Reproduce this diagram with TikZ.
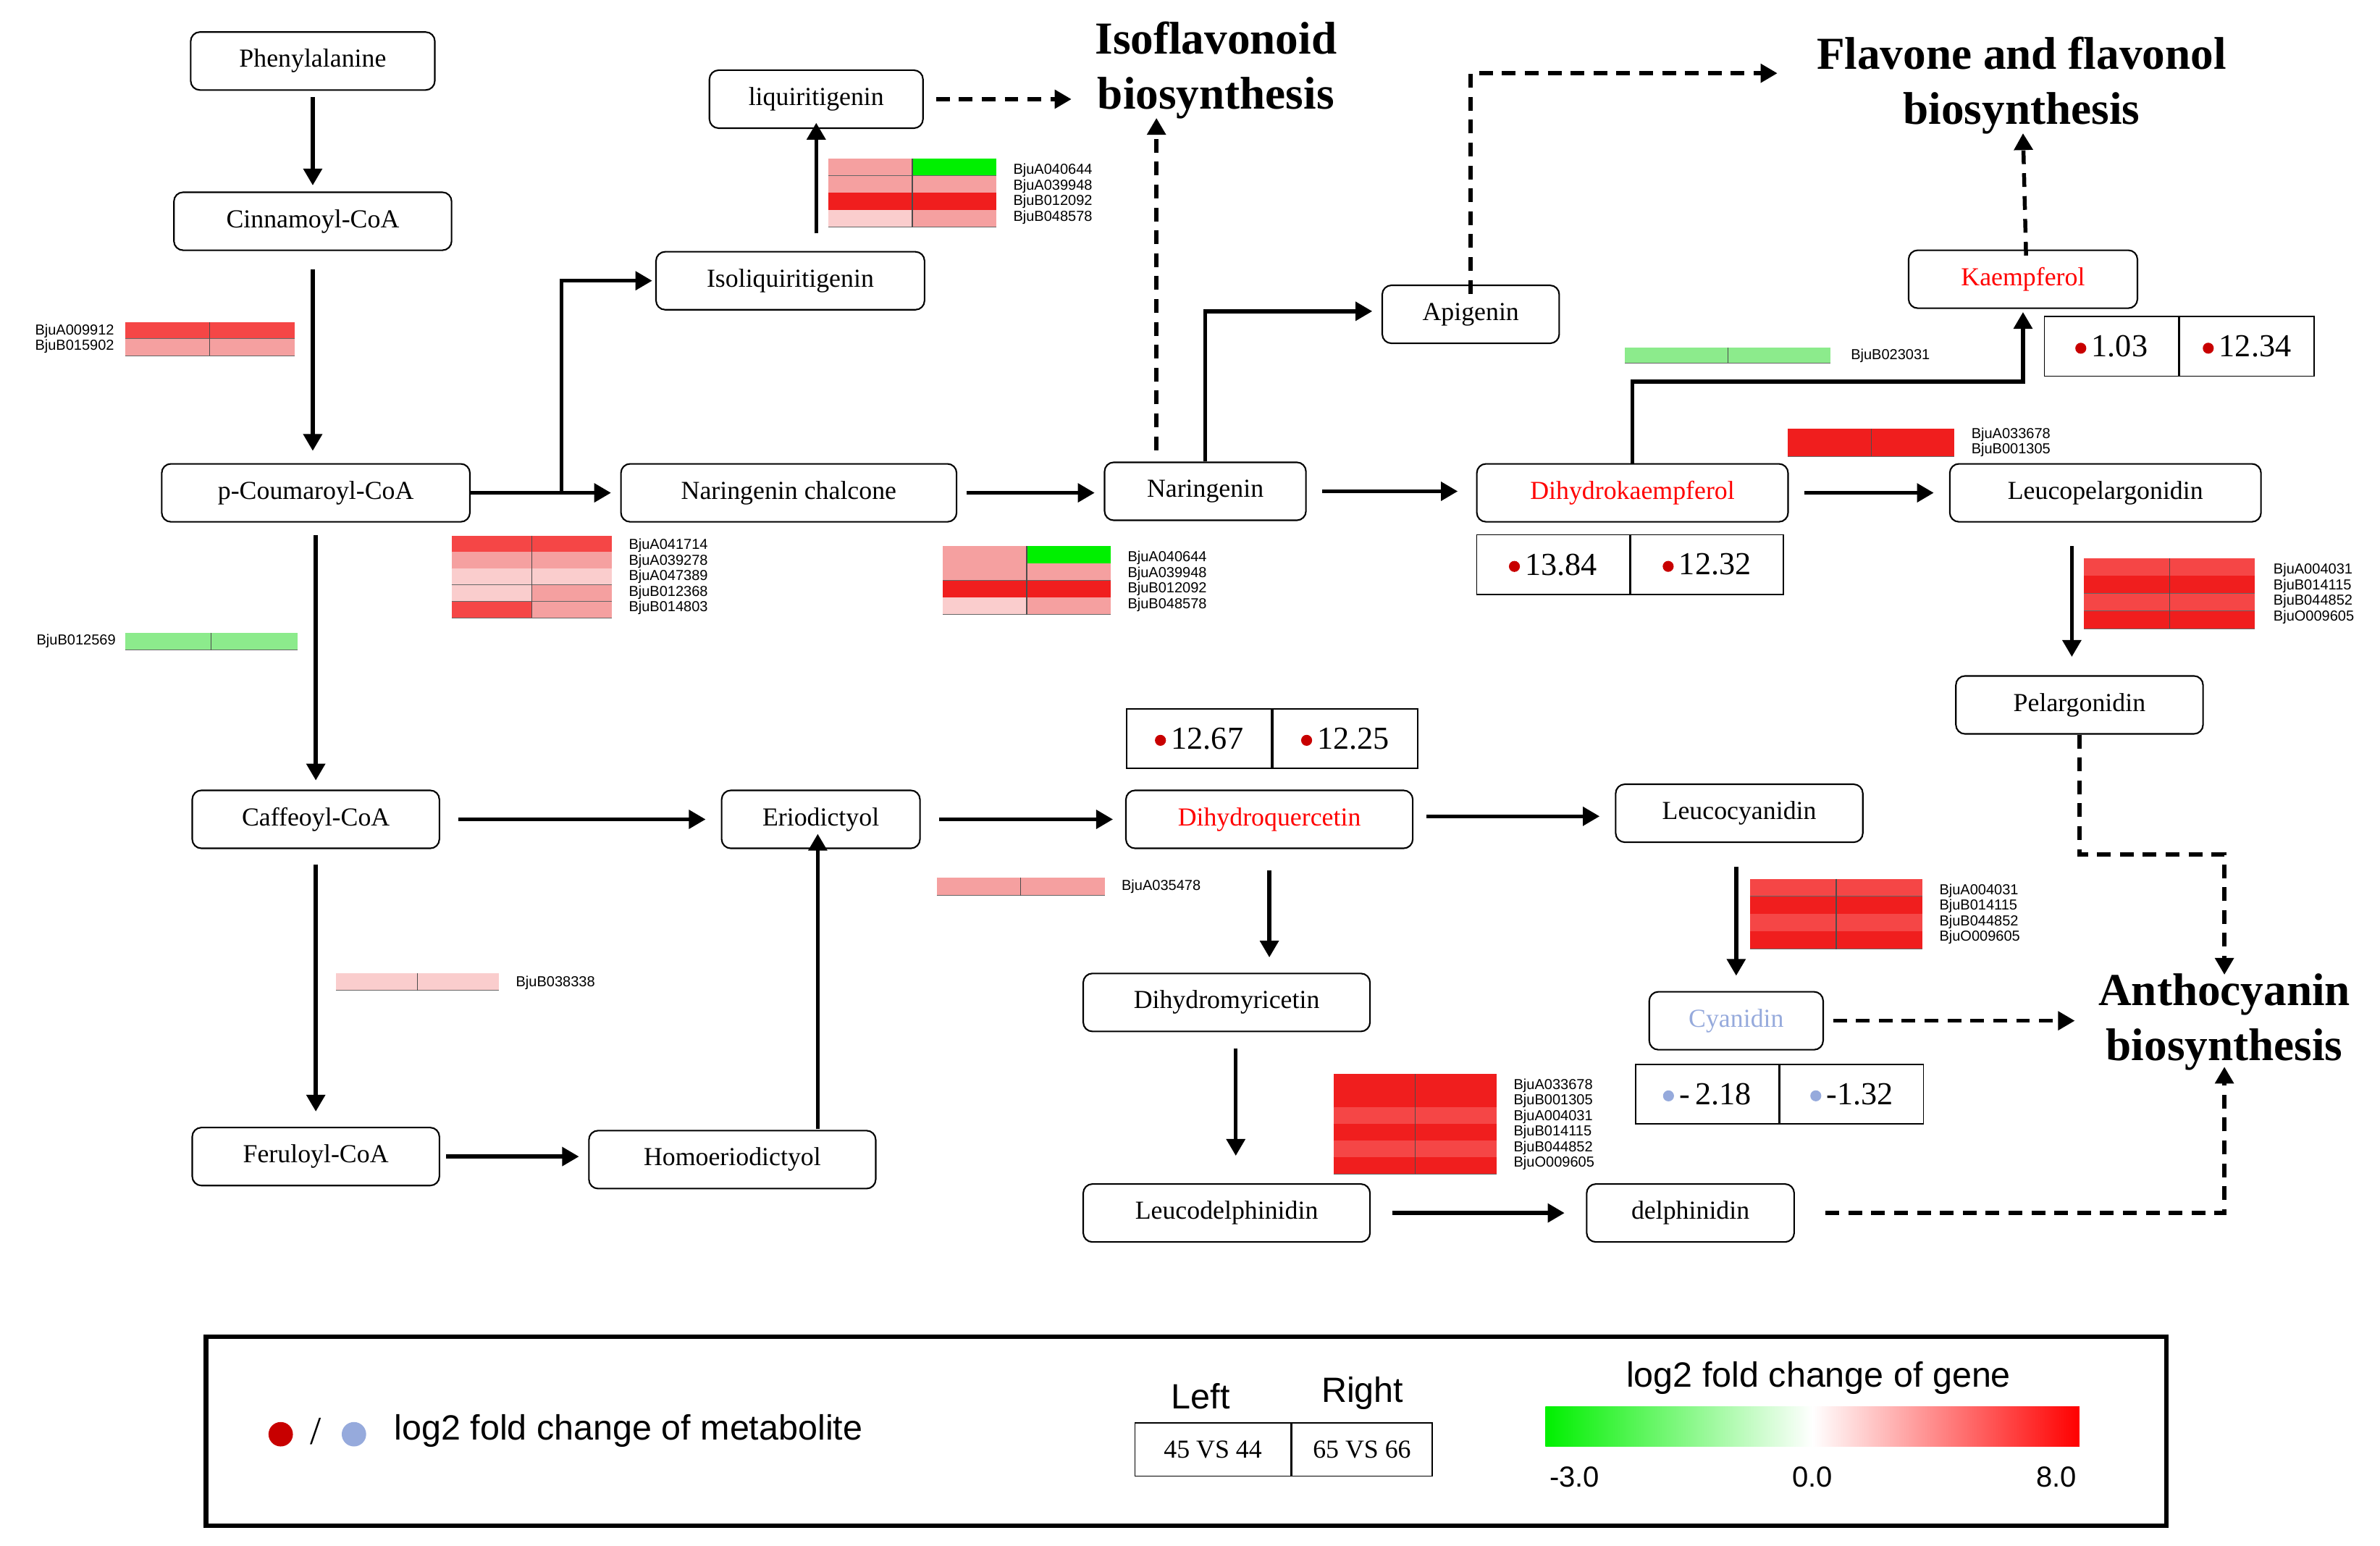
\documentclass[tikz,border=0pt]{standalone}
\usepackage{fontspec}
\setmainfont{Liberation Serif}
\newfontfamily\sans{Liberation Sans}
\usetikzlibrary{arrows.meta}
\definecolor{hR}{RGB}{240,30,30}
\definecolor{hR2}{RGB}{245,70,70}
\definecolor{hP}{RGB}{245,160,160}
\definecolor{hL}{RGB}{250,205,205}
\definecolor{hG}{RGB}{0,240,0}
\definecolor{hLG}{RGB}{140,235,140}
\definecolor{mred}{RGB}{200,0,0}
\definecolor{mblue}{RGB}{150,170,220}
\newcommand\heat[6]{% x1,y1,width,rowheight,nrows,list l/r
  \foreach \l/\r [count=\i] in {#6}{
    \fill[\l] (#1,{#2+(\i-1)*#4}) rectangle ({#1+#3/2},{#2+\i*#4});
    \fill[\r] ({#1+#3/2},{#2+(\i-1)*#4}) rectangle ({#1+#3},{#2+\i*#4});
    \draw[black!60,line width=0.4pt] (#1,{#2+\i*#4}) -- ({#1+#3},{#2+\i*#4});
  }
  \draw[black!70,line width=0.6pt] ({#1+#3/2},#2) -- ({#1+#3/2},{#2+#5*#4});
}
\newcommand\mdot[1]{{\color{#1}\raisebox{2pt}{\tikz\fill (0,0) circle (3.6pt);}}}
\begin{document}
\begin{tikzpicture}[x=1pt,y=-1pt,
  box/.style={draw,rounded corners=6pt,line width=1pt,minimum height=38pt,font=\fontsize{17}{18}\selectfont,inner sep=2pt},
  ar/.style={line width=2.6pt,-{Triangle[length=11pt,width=12pt]}},
  da/.style={ar,dash pattern=on 9pt off 6pt},
  ttl/.style={font=\fontsize{30}{36}\selectfont\bfseries,align=center},
  gl/.style={font=\sans\fontsize{9.5}{10.2}\selectfont,align=left,inner sep=0pt},
  glr/.style={gl,align=right},
  vb/.style={draw,line width=0.8pt,minimum height=39pt,font=\fontsize{21}{22}\selectfont,inner sep=0pt},
  dot/.style={circle,fill=#1,inner sep=0pt,minimum size=6pt}]
\useasboundingbox (0,0) rectangle (1560,1013);
% nodes
\node[box,minimum width=160pt] (phe) at (205,40) {Phenylalanine};
\node[box,minimum width=182pt] (cin) at (205,145) {Cinnamoyl-CoA};
\node[box,minimum width=202pt] (pco) at (207,323) {p-Coumaroyl-CoA};
\node[box,minimum width=162pt] (caf) at (207,537) {Caffeoyl-CoA};
\node[box,minimum width=162pt] (fer) at (207,758) {Feruloyl-CoA};
\node[box,minimum width=188pt] (hom) at (480,760) {Homoeriodictyol};
\node[box,minimum width=130pt] (eri) at (538,537) {Eriodictyol};
\node[box,minimum width=176pt] (iso) at (518,184) {Isoliquiritigenin};
\node[box,minimum width=140pt] (liq) at (535,65) {liquiritigenin};
\node[box,minimum width=220pt] (nch) at (517,323) {Naringenin chalcone};
\node[box,minimum width=132pt] (nar) at (790,322) {Naringenin};
\node[box,minimum width=116pt] (api) at (964,206) {Apigenin};
\node[box,minimum width=204pt,text=red] (dhk) at (1070,323) {Dihydrokaempferol};
\node[box,minimum width=150pt,text=red] (kae) at (1326,183) {Kaempferol};
\node[box,minimum width=204pt] (lpe) at (1380,323) {Leucopelargonidin};
\node[box,minimum width=162pt] (pel) at (1363,462) {Pelargonidin};
\node[box,minimum width=188pt,text=red] (dhq) at (832,537) {Dihydroquercetin};
\node[box,minimum width=162pt] (lcy) at (1140,533) {Leucocyanidin};
\node[box,minimum width=188pt] (dhm) at (804,657) {Dihydromyricetin};
\node[box,minimum width=114pt,text=mblue] (cya) at (1138,669) {Cyanidin};
\node[box,minimum width=188pt] (ldp) at (804,795) {Leucodelphinidin};
\node[box,minimum width=136pt] (del) at (1108,795) {delphinidin};
\node[ttl] (isoT) at (797,46) {Isoflavonoid\\biosynthesis};
\node[ttl] (flaT) at (1325,56) {Flavone and flavonol\\biosynthesis};
\node[ttl] (antT) at (1458,670) {Anthocyanin\\biosynthesis};
% value boxes
\foreach \n/\x/\y/\w/\a/\b/\c in {vk/1384/227/88/1.03/12.34/mred, vd/1018/370/100/13.84/12.32/mred, vq/786/484/95/12.67/12.25/mred, vc/1119/717/94/-\,2.18/-1.32/mblue}{
  \node[vb,minimum width=\w pt] (\n l) at (\x,\y) {\mdot{\c}\,\a};
  \node[vb,minimum width=\w pt,anchor=west] (\n r) at (\n l.east) {\mdot{\c}\,\b};
}
% heatmaps
\heat{82}{211}{111}{11}{2}{hR2/hR2,hP/hP}
\node[glr,anchor=east] (g1) at (75,222) {BjuA009912\\BjuB015902};
\heat{296}{351}{105}{10.8}{5}{hR2/hR2,hP/hP,hL/hL,hL/hP,hR2/hP}
\node[gl,anchor=west] (g2) at (412,378) {BjuA041714\\BjuA039278\\BjuA047389\\BjuB012368\\BjuB014803};
\heat{82}{415}{113}{11}{1}{hLG/hLG}
\node[glr,anchor=east] (g3) at (76,420) {BjuB012569};
\heat{543}{104}{110}{11.2}{4}{hP/hG,hP/hP,hR/hR,hL/hP}
\node[gl,anchor=west] (g4) at (664,127) {BjuA040644\\BjuA039948\\BjuB012092\\BjuB048578};
\heat{618}{358}{110}{11.2}{4}{hP/hG,hP/hP,hR/hR,hL/hP}
\node[gl,anchor=west] (g5) at (739,381) {BjuA040644\\BjuA039948\\BjuB012092\\BjuB048578};
\heat{1065}{228}{135}{10}{1}{hLG/hLG}
\node[gl,anchor=west] (g6) at (1213,233) {BjuB023031};
\heat{1172}{281}{109}{9}{2}{hR/hR,hR/hR}
\node[gl,anchor=west] (g7) at (1292,290) {BjuA033678\\BjuB001305};
\heat{1366}{366}{112}{11.5}{4}{hR2/hR2,hR/hR,hR2/hR2,hR/hR}
\node[gl,anchor=west] (g8) at (1490,389) {BjuA004031\\BjuB014115\\BjuB044852\\BjuO009605};
\heat{614}{575}{110}{12}{1}{hP/hP}
\node[gl,anchor=west] (g9) at (735,581) {BjuA035478};
\heat{220}{638}{107}{11}{1}{hL/hL}
\node[gl,anchor=west] (g10) at (338,644) {BjuB038338};
\heat{1147}{576}{113}{11.5}{4}{hR2/hR2,hR/hR,hR2/hR2,hR/hR}
\node[gl,anchor=west] (g11) at (1271,599) {BjuA004031\\BjuB014115\\BjuB044852\\BjuO009605};
\heat{874}{704}{107}{10.9}{6}{hR/hR,hR/hR,hR2/hR2,hR/hR,hR2/hR2,hR/hR}
\node[gl,anchor=west] (g12) at (992,737) {BjuA033678\\BjuB001305\\BjuA004031\\BjuB014115\\BjuB044852\\BjuO009605};
% solid arrows
\draw[ar] ([yshift=-4pt]phe.south) -- ([yshift=4pt]cin.north-|phe.south);
\draw[ar] ([yshift=-12pt]cin.south) -- ([yshift=8pt]pco.north-|cin.south);
\draw[ar] ([yshift=-8pt]pco.south) -- ([yshift=6pt]caf.north-|pco.south);
\draw[ar] ([yshift=-10pt]caf.south) -- ([yshift=10pt]fer.north-|caf.south);
\draw[ar] ([xshift=4pt]fer.east) -- ([xshift=-6pt]hom.west|-fer.east);
\coordinate (he) at (536,740);
\draw[ar] (he) -- ([yshift=10pt]eri.south-|he);
\draw[ar] ([xshift=12pt]caf.east) -- ([xshift=-10pt]eri.west|-caf.east);
\draw[ar] ([xshift=12pt]eri.east) -- ([xshift=-8pt]dhq.west|-eri.east);
\draw[ar] (pco.east) -- ([xshift=-6pt]nch.west|-pco.east);
\coordinate (br) at (368,323);
\draw[ar] (br) |- ([xshift=-2pt]iso.west);
\coordinate (il) at (535,153);
\draw[ar] (il) -- ([yshift=4pt]liq.south-|il);
\draw[ar] ([xshift=6pt]nch.east) -- ([xshift=-6pt]nar.west|-nch.east);
\draw[ar] ([xshift=10pt]nar.east) -- ([xshift=-12pt]dhk.west|-nar.east);
\draw[ar] (nar.north) -- (790,204) -- ([xshift=-6pt]api.west|-0,204);
\draw[ar] (dhk.north) -- (1070,250) -- (1326,250) -- ([yshift=-2pt]kae.south);
\draw[ar] ([xshift=10pt]dhk.east) -- ([xshift=-10pt]lpe.west|-dhk.east);
\coordinate (lp) at (1358,358);
\draw[ar] (lp) -- ([yshift=12pt]pel.north-|lp);
\coordinate (qe) at (935,535);
\draw[ar] (qe) -- ([xshift=-10pt]lcy.west|-qe);
\draw[ar] ([yshift=-14pt]dhq.south) -- ([yshift=10pt]dhm.north-|dhq.south);
\coordinate (lc) at (1138,568);
\draw[ar] (lc) -- ([yshift=10pt]cya.north-|lc);
\coordinate (dm) at (810,687);
\draw[ar] (dm) -- ([yshift=18pt]ldp.north-|dm);
\draw[ar] ([xshift=14pt]ldp.east) -- ([xshift=-14pt]del.west);
% dashed arrows
\draw[da] ([xshift=8pt]liq.east) -- ([xshift=-12pt]liq.east-|isoT.west);
\coordinate (nu) at (758,295);
\draw[da] (nu) -- ([yshift=4pt]isoT.south-|nu);
\draw[da] ([yshift=-6pt]api.north) -- (964,48) -- (1165,48);
\draw[da] ([xshift=2pt,yshift=-4pt]kae.north) -- ([yshift=4pt]flaT.south-|kae.north);
\draw[da] (pel.south) -- (1363,560) -- (1458,560) -- ([yshift=-4pt]antT.north);
\draw[da] ([xshift=6pt]cya.east) -- ([xshift=-12pt]antT.west|-cya.east);
\draw[da] ([xshift=20pt]del.east) -- (1458,795) -- ([yshift=6pt]antT.south);
% legend
\draw[line width=3pt] (135,876) rectangle (1420,1000);
\node[dot=mred,minimum size=16pt] (ld1) at (184,940) {};
\node[font=\fontsize{26}{26}\selectfont] (lsl) at (207,938) {/};
\node[dot=mblue,minimum size=16pt] (ld2) at (232,940) {};
\node[anchor=west,font=\sans\fontsize{23}{24}\selectfont] (lt) at (255,938) {log2 fold change of metabolite};
\node[font=\sans\fontsize{23}{24}\selectfont] (lleft) at (787,915) {Left};
\node[font=\sans\fontsize{23}{24}\selectfont] (lright) at (893,913) {Right};
\node[draw,line width=0.7pt,minimum width=102pt,minimum height=35pt,font=\fontsize{17}{18}\selectfont] (ll) at (795,950) {45 VS 44};
\node[draw,line width=0.7pt,minimum width=92pt,minimum height=35pt,font=\fontsize{17}{18}\selectfont,anchor=west] (lr) at (ll.east) {65 VS 66};
\node[font=\sans\fontsize{23}{24}\selectfont] (lg) at (1192,903) {log2 fold change of gene};
\shade[left color=hG,right color=white] (1013,922) rectangle (1188,948);
\shade[left color=white,right color=red] (1188,922) rectangle (1363,948);
\node[font=\sans\fontsize{19}{20}\selectfont] (m3) at (1032,968) {-3.0};
\node[font=\sans\fontsize{19}{20}\selectfont] (z0) at (1188,968) {0.0};
\node[font=\sans\fontsize{19}{20}\selectfont] (p8) at (1348,968) {8.0};
\end{tikzpicture}
\end{document}
